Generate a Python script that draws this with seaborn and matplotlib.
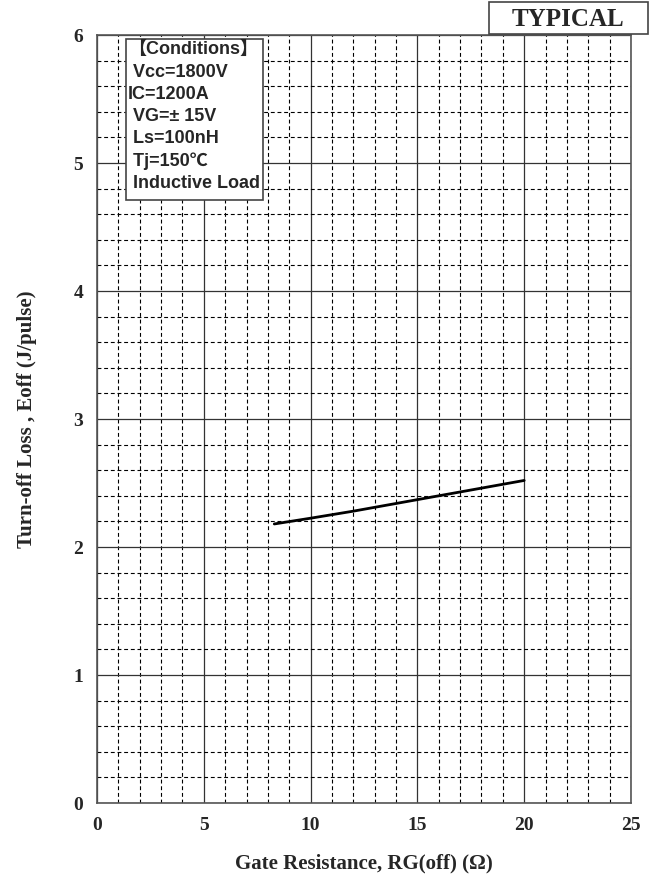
import matplotlib
matplotlib.use("Agg")
import matplotlib.pyplot as plt
import seaborn as sns
import pandas as pd
from matplotlib.ticker import MultipleLocator
from matplotlib.patches import Rectangle

# Turn-off loss versus gate resistance
rg_off = [8.3, 10, 12, 14, 16, 18, 20]
eoff = [2.18, 2.225, 2.28, 2.34, 2.40, 2.46, 2.52]

x_ticks = [0, 5, 10, 15, 20, 25]
y_ticks = [0, 1, 2, 3, 4, 5, 6]

conditions = ["\u3010Conditions\u3011", " Vcc=1800V", "IC=1200A", " VG=\u00b1 15V",
              " Ls=100nH", " Tj=150\u2103", " Inductive Load"]

sns.set_style("white")
plt.rcParams["font.family"] = ["Liberation Serif", "DejaVu Serif"]

W, H = 659, 884
fig = plt.figure(figsize=(W / 100, H / 100), dpi=100)
ax = fig.add_axes([97 / W, 81 / H, 534 / W, 768 / H])

df = pd.DataFrame({"RG": rg_off, "Eoff": eoff})
sns.lineplot(data=df, x="RG", y="Eoff", ax=ax, color="black", linewidth=2)

ax.set_xlim(0, 25)
ax.set_ylim(0, 6)
ax.set_xticks(x_ticks)
ax.set_yticks(y_ticks)
ax.xaxis.set_minor_locator(MultipleLocator(1))
ax.yaxis.set_minor_locator(MultipleLocator(0.2))
ax.grid(which="major", color="#333333", linestyle="-", linewidth=0.9)
ax.grid(which="minor", color="black", linestyle=(0, (3.5, 2.5)), linewidth=0.8)
ax.set_axisbelow(True)
ax.tick_params(which="both", length=0, pad=10)
for lab in ax.get_xticklabels() + ax.get_yticklabels():
    lab.set_fontweight("bold")
    lab.set_fontsize(14)
for s in ax.spines.values():
    s.set_color("#555555")
    s.set_linewidth(1.2)

ax.set_xlabel("Gate Resistance, RG(off) (\u03a9)", fontsize=15, fontweight="bold", labelpad=14)
ax.set_ylabel("Turn-off Loss , Eoff (J/pulse)", fontsize=15, fontweight="bold", labelpad=26)

# conditions panel
bx0, bx1 = (126 - 97) / 534, (263 - 97) / 534
by0, by1 = (803 - 200) / 768, (803 - 39) / 768
ax.add_patch(Rectangle((bx0, by0), bx1 - bx0, by1 - by0, transform=ax.transAxes,
                       facecolor="white", edgecolor="#444444", linewidth=1.2, zorder=5))
ax.text(bx0 + 0.004, by1 - 0.003, "\n".join(conditions), transform=ax.transAxes,
        va="top", ha="left", fontsize=13, fontweight="bold", linespacing=1.4,
        family=["Liberation Sans", "Noto Sans CJK JP", "DejaVu Sans"], zorder=6)

# TYPICAL badge
fig.patches.append(Rectangle((489 / W, 1 - 34 / H), 159 / W, 32 / H, transform=fig.transFigure,
                             facecolor="white", edgecolor="#444444", linewidth=1.2, zorder=5))
fig.text(568 / W, 1 - 19 / H, "TYPICAL", ha="center", va="center", fontsize=18,
         fontweight="bold", zorder=6)

fig.savefig("out.png", dpi=100)
